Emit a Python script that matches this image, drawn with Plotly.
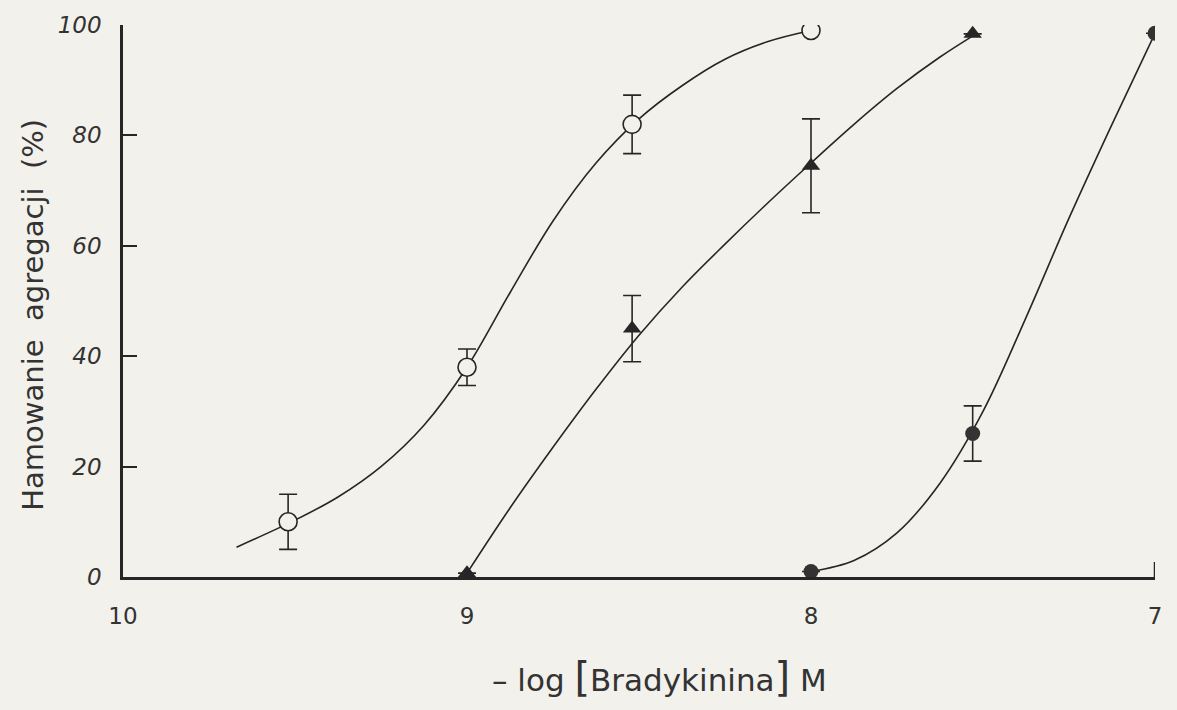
import plotly.graph_objects as go

# ---------------- data ----------------
# open circles
open_x = [9.52, 9.0, 8.52, 8.0]
open_y = [10, 38, 82, 99]
open_err = [5, 3.3, 5.3, None]

# filled triangles
tri_x = [9.0, 8.52, 8.0, 7.53]
tri_y = [0.7, 45, 74.5, 98.4]
tri_err = [None, 6, 8.5, None]

# filled circles
full_x = [8.0, 7.53, 7.0]
full_y = [1, 26, 98.5]
full_err = [None, 5, None]

# fitted curves
open_fit_x = [9.67, 9.5, 9.375, 9.25, 9.125, 9.0, 8.875, 8.75, 8.625, 8.5, 8.375, 8.25, 8.125, 8.0]
open_fit_y = [5.4, 10.3, 14.5, 20, 27.5, 38, 51.5, 64.5, 75, 83, 89, 93.8, 97, 99]

tri_fit_x = [9.0, 8.875, 8.75, 8.625, 8.5, 8.375, 8.25, 8.125, 8.0, 7.875, 7.75, 7.625, 7.52]
tri_fit_y = [0.7, 12.5, 23.5, 34, 43.8, 52.5, 60.3, 67.8, 75, 82, 88.5, 94.2, 98.4]

full_fit_x = [8.0, 7.875, 7.75, 7.625, 7.5, 7.375, 7.25, 7.125, 7.0]
full_fit_y = [1, 3, 8, 17, 30, 47, 65, 82, 98.5]

x_ticks = [10, 9, 8, 7]
x_tick_text = ["10", "9", "8", "7"]
y_ticks = [0, 20, 40, 60, 80, 100]

x_title = "– log <span style='font-size:40px'>[</span>Bradykinina<span style='font-size:40px'>]</span> M"
y_title = "Hamowanie  agregacji  (%)"

# ---------------- style ----------------
INK = "#262626"
PAPER = "#f2f1eb"
FONT = "DejaVu Sans"

fig = go.Figure()

for fx, fy in [(open_fit_x, open_fit_y), (tri_fit_x, tri_fit_y), (full_fit_x, full_fit_y)]:
    fig.add_trace(go.Scatter(
        x=fx, y=fy, mode="lines",
        line=dict(color=INK, width=1.6, shape="spline", smoothing=1.0),
        hoverinfo="skip", showlegend=False))

err_style = dict(type="data", visible=True, color=INK, thickness=1.6, width=9)

fig.add_trace(go.Scatter(
    x=open_x, y=open_y, mode="markers",
    marker=dict(symbol="circle", size=18, color=PAPER, line=dict(color=INK, width=1.6)),
    error_y=dict(array=open_err, **err_style), showlegend=False))

fig.add_trace(go.Scatter(
    x=tri_x, y=tri_y, mode="markers",
    marker=dict(symbol="triangle-up", size=16, color=INK, line=dict(width=0)),
    error_y=dict(array=tri_err, **err_style), showlegend=False))

fig.add_trace(go.Scatter(
    x=full_x, y=full_y, mode="markers",
    marker=dict(symbol="circle", size=15, color="#333333", line=dict(width=0)),
    error_y=dict(array=full_err, **err_style), showlegend=False))

fig.update_layout(
    width=1177, height=710,
    margin=dict(l=123, r=22, t=25, b=133),
    paper_bgcolor=PAPER, plot_bgcolor=PAPER,
    font=dict(family=FONT, color=INK),
    showlegend=False,
    xaxis=dict(
        range=[10, 7], showgrid=False, zeroline=False,
        showline=True, linecolor=INK, linewidth=2.5,
        ticks="", tickvals=x_ticks, ticktext=x_tick_text,
        tickfont=dict(family=FONT, size=23, color="#333333"),
        ticklabelstandoff=17,
    ),
    yaxis=dict(
        range=[0, 100], showgrid=False, zeroline=False,
        showline=True, linecolor=INK, linewidth=2.5,
        ticks="inside", ticklen=14, tickwidth=2, tickcolor=INK,
        tickvals=y_ticks,
        tickfont=dict(family=FONT, size=23, color="#333333", style="italic"),
        ticklabelstandoff=14,
    ),
    annotations=[
        dict(text=x_title, xref="paper", yref="paper", x=0.52, y=-0.181,
             xanchor="center", yanchor="middle", showarrow=False,
             font=dict(family=FONT, size=31, color="#333333")),
        dict(text=y_title, xref="paper", yref="paper", x=-0.0872, y=0.475,
             xanchor="center", yanchor="middle", textangle=-90, showarrow=False,
             font=dict(family=FONT, size=29, color="#333333")),
    ],
    shapes=[
        dict(type="line", xref="x", yref="y", x0=7, x1=7, y0=0, y1=2.7,
             line=dict(color=INK, width=2.5)),
    ],
)

fig.write_html("out.html")
